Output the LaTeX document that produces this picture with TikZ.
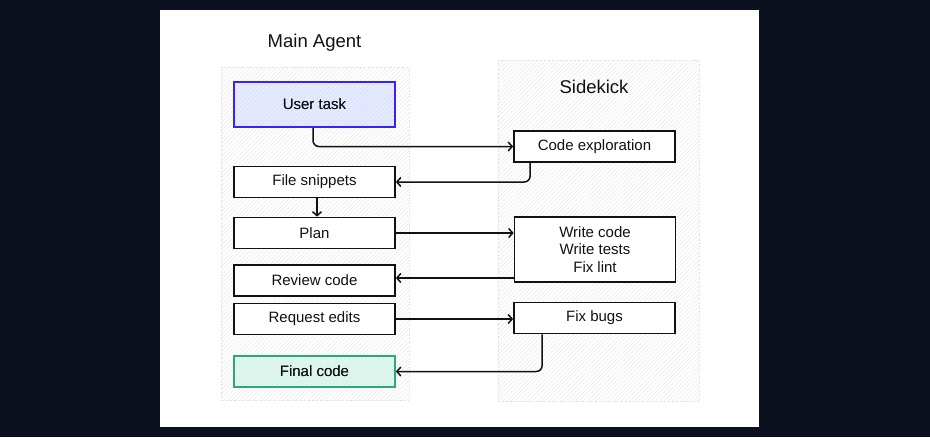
\documentclass[tikz,border=0pt]{standalone}
\usepackage{fontspec}
\setmainfont{Liberation Sans}
\usetikzlibrary{arrows.meta,patterns.meta}
\definecolor{bgdark}{HTML}{0B111E}
\definecolor{inkc}{HTML}{111111}
\definecolor{blueline}{HTML}{3A22F5}
\definecolor{bluefill}{HTML}{E6ECFF}
\definecolor{greenline}{HTML}{2FA878}
\definecolor{greenfill}{HTML}{DDF7EE}
\tikzset{
  box/.style={draw=inkc, line width=1.7pt, fill=white, minimum width=161pt, minimum height=31pt,
    inner sep=0pt, text=inkc, font=\fontsize{15}{17.5}\selectfont, align=center},
  title/.style={text=inkc, font=\fontsize{18.5}{20}\selectfont},
  arr/.style={draw=inkc, line width=1.5pt, -{Straight Barb[length=4pt,width=9pt,line width=1.5pt]}, rounded corners=6pt},
  zone/.style={pattern={Lines[angle=45,distance=3pt,line width=0.35pt]}, pattern color=gray!22},
  zoneedge/.style={draw=gray!30, dotted, line width=0.6pt}
}
\begin{document}
\begin{tikzpicture}[x=1pt,y=-1pt]
\fill[bgdark] (0,0) rectangle (930,437);
\useasboundingbox (0,0) rectangle (930,437);
\fill[white] (160,10) rectangle (759,427);
% containers
\path[zone] (221,67) rectangle (409,400);
\draw[zoneedge] (221,67) rectangle (409,400);
\path[zone] (498,60) rectangle (699,401);
\draw[zoneedge] (498,60) rectangle (699,401);
% titles
\node[title] (tma) at (314.5,43) {Main Agent};
\node[title] (tsk) at (594,87) {Sidekick};
% nodes
\node[box, draw=blueline, fill=bluefill, minimum height=45pt] (ut) at (314.5,104.5) {User task};
\path[pattern={Lines[angle=45,distance=3pt,line width=0.35pt]}, pattern color=blueline!20]
  ([shift={(1,-1)}]ut.south west) rectangle ([shift={(-1,1)}]ut.north east);
\node[box, draw=blueline, fill=none, minimum height=45pt] at (314.5,104.5) {User task};
\node[box] (ce) at (594.5,146.5) {Code exploration};
\node[box] (fs) at (314.5,182) {File snippets};
\node[box] (pl) at (314.5,233) {Plan};
\node[box] (rc) at (314.5,280.5) {Review code};
\node[box] (re) at (314.5,319) {Request edits};
\node[box, draw=greenline, fill=greenfill] (fc) at (314.5,371.5) {Final code};
\path[pattern={Lines[angle=45,distance=3pt,line width=0.35pt]}, pattern color=greenline!20]
  ([shift={(1,-1)}]fc.south west) rectangle ([shift={(-1,1)}]fc.north east);
\node[box, draw=greenline, fill=none] at (314.5,371.5) {Final code};
\node[box, minimum height=65pt] (wc) at (595,249.5) {Write code\\Write tests\\Fix lint};
\node[box] (fb) at (594.5,318) {Fix bugs};
% connectors
\draw[arr] ([xshift=-1.5pt]ut.south) |- (ce.west);
\draw[arr] ([xshift=17pt]ce.south west) |- (fs.east);
\draw[arr] ([xshift=2.5pt]fs.south) -- ([xshift=2.5pt]pl.north);
\draw[arr] (pl.east) -- (pl.east -| wc.west);
\draw[arr] ([yshift=2.5pt]wc.west |- rc.east) -- ([yshift=2.5pt]rc.east);
\draw[arr] (re.east) -- (re.east -| fb.west);
\draw[arr] ([xshift=29pt]fb.south west) |- (fc.east);
\end{tikzpicture}
\end{document}
